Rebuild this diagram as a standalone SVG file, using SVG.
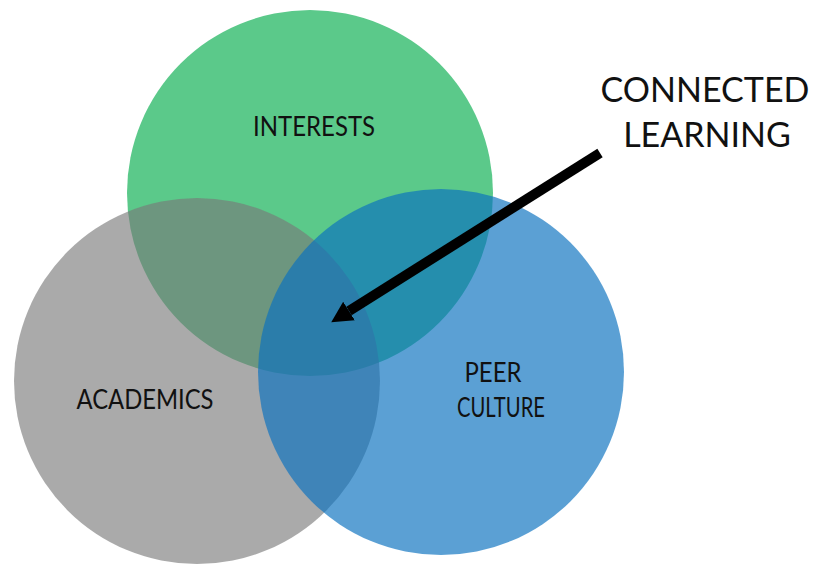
<svg xmlns="http://www.w3.org/2000/svg" width="813" height="564" viewBox="0 0 813 564">
<style>
  .lbl { font-family: Lato, "Open Sans", "Liberation Sans", sans-serif; fill: #111; text-anchor: middle; }
  .small { font-size: 26px; }
  .big { font-size: 34px; }
</style>
<defs>
  <marker id="head" markerUnits="userSpaceOnUse" viewBox="0 -12 22 24" refX="0" refY="0" markerWidth="22" markerHeight="24" orient="auto">
    <path d="M0,-11 L21,0 L0,11 z" fill="#000"/>
  </marker>
</defs>
<rect width="813" height="564" fill="#ffffff"/>
<g id="interests">
  <circle cx="310" cy="193" r="183" fill="#5BC98A"/>
  <text class="lbl small" x="314" y="136" textLength="122" lengthAdjust="spacingAndGlyphs">INTERESTS</text>
</g>
<g id="academics">
  <circle cx="197" cy="381" r="183" fill="#787878" fill-opacity="0.63"/>
  <text class="lbl small" x="145" y="409" textLength="137" lengthAdjust="spacingAndGlyphs">ACADEMICS</text>
</g>
<g id="peer-culture">
  <circle cx="441" cy="372" r="183" fill="#0A71BF" fill-opacity="0.67"/>
  <text class="lbl small" x="493" y="382" textLength="57" lengthAdjust="spacingAndGlyphs">PEER</text>
  <text class="lbl small" x="501" y="417" textLength="88" lengthAdjust="spacingAndGlyphs">CULTURE</text>
</g>
<g id="connected-learning">
  <text class="lbl big" x="705" y="102">CONNECTED</text>
  <text class="lbl big" x="707" y="147">LEARNING</text>
</g>
<g id="connectors">
  <line x1="600" y1="153" x2="349" y2="311" stroke="#000" stroke-width="10" marker-end="url(#head)"/>
</g>
</svg>
